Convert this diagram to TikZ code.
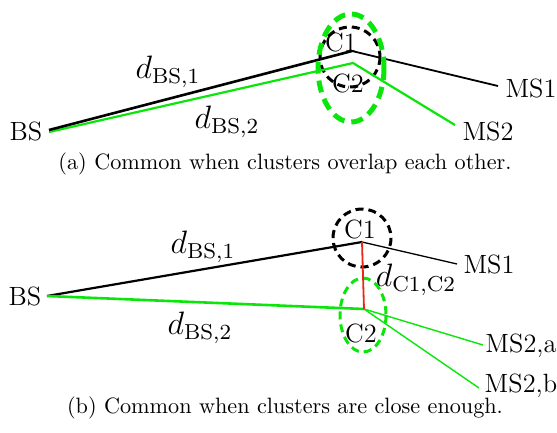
\documentclass[tikz,border=0pt]{standalone}
\usepackage{tikz}
\definecolor{brgreen}{RGB}{10,230,10}
\definecolor{lred}{RGB}{230,40,20}
\begin{document}
\begin{tikzpicture}[x=1pt,y=-1pt,
  lbl/.style={font=\fontsize{12}{14}\selectfont, inner sep=0pt, scale=2.2},
  mlbl/.style={font=\fontsize{12}{14}\selectfont, inner sep=0pt, scale=2.7},
  captxt/.style={font=\fontsize{10}{12}\selectfont, inner sep=0pt, scale=2.22},
  blkline/.style={black, line width=2.6pt},
  thinblk/.style={black, line width=1.8pt},
  grnline/.style={brgreen, line width=2.2pt},
  thingrn/.style={brgreen, line width=1.4pt},
  blkcirc/.style={black, line width=3pt, dash pattern=on 8pt off 5pt},
  grncircA/.style={brgreen, line width=5pt, dash pattern=on 12pt off 7pt},
  grncircB/.style={brgreen, line width=3pt, dash pattern=on 8pt off 5pt},
  redline/.style={lred, line width=1.8pt}]
\useasboundingbox (0,0) rectangle (557,432);
% ---------- (a) ----------
\coordinate (bsA) at (49,130);
\coordinate (bsA2) at (49,132);
\coordinate (v1A) at (352,51);
\coordinate (v2A) at (353,63);
\coordinate (ms1A) at (498,86);
\coordinate (ms2A) at (455,125);
\node[lbl] (lbsA) at (26,131) {BS};
\node[lbl] (lc1A) at (341,42) {C1};
\node[lbl] (lc2A) at (348,83) {C2};
\node[lbl] (lms1A) at (531,88) {MS1};
\node[lbl] (lms2A) at (488,131) {MS2};
\node[mlbl] (ld1A) at (168,72) {$d_{\mathrm{BS},1}$};
\node[mlbl] (ld2A) at (227,122) {$d_{\mathrm{BS},2}$};
\draw[blkcirc] (350,57) circle[radius=30];
\draw[grnline] (bsA2) -- (v2A) -- (ms2A);
\draw[blkline] (bsA) -- (v1A);
\draw[thinblk] (v1A) -- (ms1A);
\draw[grncircA] (351,68) ellipse[x radius=33, y radius=54];
\node[captxt] (capA) at (285,164) {(a) Common when clusters overlap each other.};
% ---------- (b) ----------
\coordinate (bsB) at (47,296);
\coordinate (v1B) at (362,242);
\coordinate (v2B) at (364,309);
\coordinate (ms1B) at (457,264);
\coordinate (ms2aB) at (483,345);
\coordinate (ms2bB) at (479,388);
\node[lbl] (lbsB) at (25,296) {BS};
\node[lbl] (lc1B) at (360,229) {C1};
\node[lbl] (lc2B) at (361,333) {C2};
\node[lbl] (lms1B) at (489,264) {MS1};
\node[lbl] (lms2aB) at (521,346) {MS2,a};
\node[lbl] (lms2bB) at (521,386) {MS2,b};
\node[mlbl] (ld1B) at (203,247) {$d_{\mathrm{BS},1}$};
\node[mlbl] (ld2B) at (200,328) {$d_{\mathrm{BS},2}$};
\node[mlbl] (ldcB) at (416,280) {$d_{\mathrm{C1},\mathrm{C2}}$};
\draw[blkcirc] (362,238) circle[radius=29];
\draw[grncircB] (363,315) ellipse[x radius=23, y radius=37];
\draw[blkline, line width=2.2pt] (bsB) -- (v1B);
\draw[thinblk, line width=1.3pt] (v1B) -- (ms1B);
\draw[grnline, line width=2.6pt] (bsB) -- (v2B);
\draw[thingrn] (v2B) -- (ms2aB);
\draw[thingrn] (v2B) -- (ms2bB);
\draw[redline] (v1B) -- (v2B);
\node[captxt] (capB) at (285,408) {(b) Common when clusters are close enough.};
\end{tikzpicture}
\end{document}
